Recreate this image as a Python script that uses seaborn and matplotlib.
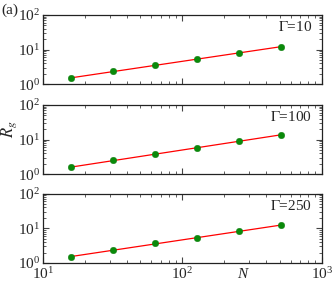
import numpy as np
import pandas as pd
import matplotlib
matplotlib.use("Agg")
import matplotlib.pyplot as plt
import seaborn as sns
from matplotlib.ticker import LogLocator, NullFormatter

N = [16, 32, 64, 128, 256, 512]
rg_g10 = [1.49, 2.37, 3.68, 5.37, 8.17, 11.9]
rg_g100 = [1.59, 2.54, 3.93, 5.74, 8.96, 13.9]
rg_g250 = [1.49, 2.37, 3.70, 5.41, 8.22, 12.2]
gammas = ["10", "100", "250"]
series = [rg_g10, rg_g100, rg_g250]

sns.set_style("ticks")
plt.rcParams["font.family"] = ["Liberation Serif", "DejaVu Serif"]
plt.rcParams["mathtext.fontset"] = "stix"

fig = plt.figure(figsize=(3.32, 2.83), dpi=100)
left, width = 0.1295, 0.840
bottoms = [0.702, 0.384, 0.0707]
height = 0.245

for i, (g, rg) in enumerate(zip(gammas, series)):
    ax = fig.add_axes([left, bottoms[i], width, height])
    df = pd.DataFrame({"N": N, "Rg": rg})
    # power-law fit line
    p = np.polyfit(np.log10(df["N"]), np.log10(df["Rg"]), 1)
    fit = pd.DataFrame({"N": df["N"], "Rg": 10 ** np.polyval(p, np.log10(df["N"]))})
    sns.lineplot(data=fit, x="N", y="Rg", ax=ax, color="red", lw=0.9, zorder=2)
    sns.scatterplot(data=df, x="N", y="Rg", ax=ax, color="#0a8a0a", s=22,
                    edgecolor="#0a7a0a", linewidth=0.3, zorder=3)
    ax.set_xscale("log")
    ax.set_yscale("log")
    ax.set_xlim(10, 1000)
    ax.set_ylim(1, 100)
    ax.set_xlabel("")
    ax.set_ylabel("")
    ax.yaxis.set_major_locator(LogLocator(base=10, numticks=5))
    ax.yaxis.set_minor_locator(LogLocator(base=10, subs=np.arange(2, 10), numticks=20))
    ax.xaxis.set_major_locator(LogLocator(base=10, numticks=5))
    ax.xaxis.set_minor_locator(LogLocator(base=10, subs=np.arange(2, 10), numticks=20))
    ax.yaxis.set_minor_formatter(NullFormatter())
    ax.xaxis.set_minor_formatter(NullFormatter())
    ax.tick_params(which="both", direction="in", top=True, right=True,
                   labelsize=11, pad=2, color="#444444")
    ax.tick_params(which="major", length=4, width=0.8)
    ax.tick_params(which="minor", length=2.5, width=0.6)
    for s in ax.spines.values():
        s.set_linewidth(0.9)
        s.set_color("#222222")
    if i < 2:
        ax.set_xticklabels([])
    ax.text(0.965, 0.82, r"$\Gamma$=" + g, transform=ax.transAxes,
            ha="right", va="center", fontsize=11)
    if i == 2:
        ax.text(0.715, -0.16, "N", transform=ax.transAxes, ha="center",
                va="center", fontsize=11, style="italic")

fig.text(0.003, 0.965, "(a)", fontsize=11, ha="left", va="center")
fig.text(0.028, 0.545, r"$R_g$", fontsize=12, rotation=90, ha="center", va="center")

fig.savefig("out.png", dpi=100)
